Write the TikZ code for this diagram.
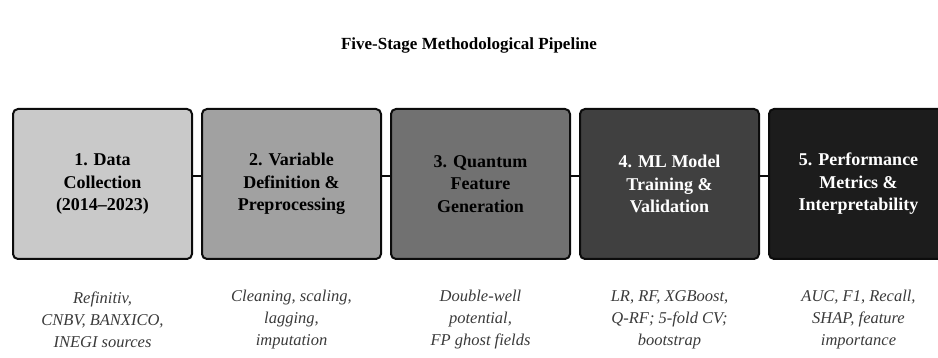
\documentclass[tikz,border=0pt]{standalone}
\usepackage{fontspec}
\setmainfont{Liberation Serif}
\usetikzlibrary{positioning}
\definecolor{plink}{RGB}{12,12,12}
\definecolor{plone}{RGB}{201,201,201}
\definecolor{pltwo}{RGB}{161,161,161}
\definecolor{plthree}{RGB}{113,113,113}
\definecolor{plfour}{RGB}{64,64,64}
\definecolor{plfive}{RGB}{28,28,28}
\definecolor{pldesc}{RGB}{58,58,58}
\tikzset{
  stage/.style={
    draw=plink, line width=2pt, rounded corners=5pt,
    minimum width=179pt, minimum height=150pt, inner sep=4pt,
    align=center, font=\fontsize{18}{22.5}\selectfont\bfseries
  },
  sone/.style={stage, fill=plone, text=black},
  stwo/.style={stage, fill=pltwo, text=black},
  sthree/.style={stage, fill=plthree, text=black},
  sfour/.style={stage, fill=plfour, text=white},
  sfive/.style={stage, fill=plfive, text=white},
  link/.style={draw=plink, line width=2pt},
  desc/.style={font=\fontsize{16.5}{22}\selectfont\itshape, text=pldesc, align=center},
  ttl/.style={font=\fontsize{17}{20}\selectfont\bfseries}
}

\begin{document}
\begin{tikzpicture}[x=1pt,y=-1pt]
  \useasboundingbox (0,0) rectangle (938,358);
  \node[ttl] (title) at (469,45) {Five-Stage Methodological Pipeline};
  % stages
  \node[sone] (b1) at (102.5,184) {1. Data\\Collection\\(2014--2023)};
  \node[stwo, right=8pt of b1] (b2) {2. Variable\\Definition \&\\Preprocessing};
  \node[sthree, right=8pt of b2] (b3) {3. Quantum\\Feature\\Generation};
  \node[sfour, right=8pt of b3] (b4) {4. ML Model\\Training \&\\Validation};
  \node[sfive, right=8pt of b4] (b5) {5. Performance\\Metrics \&\\Interpretability};
  \foreach \a/\b in {b1/b2,b2/b3,b3/b4,b4/b5} {
    \draw[link] ([yshift=8pt]\a.east) -- ([yshift=8pt]\b.west);
  }
  % descriptions
  \node[desc] (d1) at (b1.center |- 0,320) {Refinitiv,\\CNBV, BANXICO,\\INEGI sources};
  \node[desc] (d2) at (b2.center |- 0,320) {Cleaning, scaling,\\lagging,\\imputation};
  \node[desc] (d3) at (b3.center |- 0,320) {Double-well\\potential,\\FP ghost fields};
  \node[desc] (d4) at (b4.center |- 0,320) {LR, RF, XGBoost,\\Q-RF; 5-fold CV;\\bootstrap};
  \node[desc] (d5) at (b5.center |- 0,320) {AUC, F1, Recall,\\SHAP, feature\\importance};
\end{tikzpicture}
\end{document}
